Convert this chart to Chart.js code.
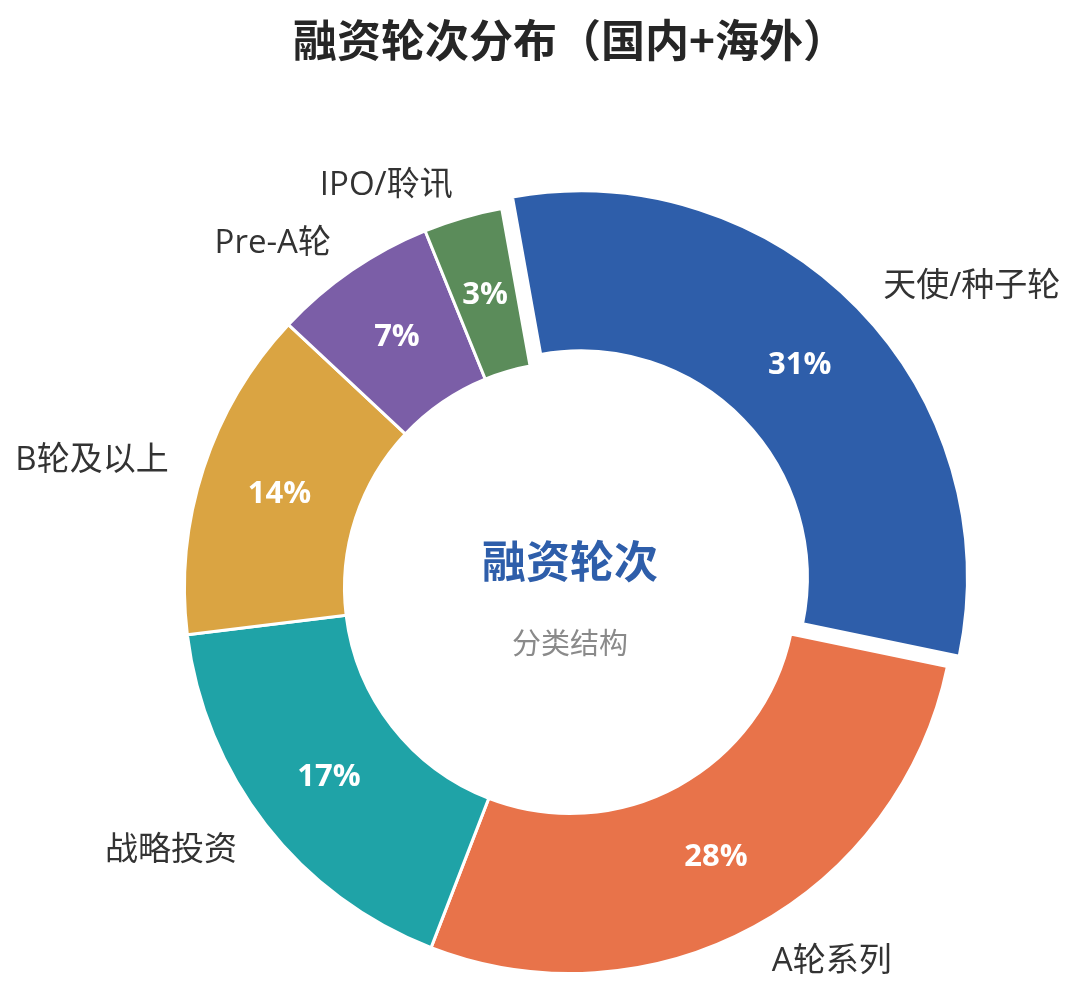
<!DOCTYPE html>
<html>
<head>
<meta charset="utf-8">
<script src="https://cdn.jsdelivr.net/npm/chart.js@4.4.1/dist/chart.umd.min.js"></script>
<style>
  html, body { margin: 0; padding: 0; background: #ffffff; }
  #wrap { position: relative; width: 1080px; height: 989px; }
</style>
</head>
<body>
<div id="wrap"><canvas id="c"></canvas></div>
<script>
// ---- data ----
const titleText = '融资轮次分布（国内+海外）';
const centerTitle = '融资轮次';
const centerSub = '分类结构';
const categories = ['天使/种子轮', 'A轮系列', '战略投资', 'B轮及以上', 'Pre-A轮', 'IPO/聆讯'];
const shares = [31.1, 27.6, 17.2, 13.9, 6.9, 3.3];
const sliceColors = ['#2E5EAA', '#E8734A', '#1FA3A7', '#DAA442', '#7B5EA7', '#5B8C5A'];

const CJK = '"Noto Sans CJK SC", "Noto Sans", sans-serif';
const LAT = '"Open Sans", "Noto Sans CJK SC", sans-serif';

const labelPlugin = {
  id: 'donutLabels',
  afterDatasetsDraw(chart) {
    const ctx = chart.ctx;
    const meta = chart.getDatasetMeta(0);
    const total = shares.reduce((a, b) => a + b, 0);
    ctx.save();
    meta.data.forEach((arc, i) => {
      const p = arc.getProps(['x', 'y', 'startAngle', 'endAngle', 'innerRadius', 'outerRadius']);
      const mid = (p.startAngle + p.endAngle) / 2;
      const shift = (arc.options.offset || 0) / 4;
      const cx = p.x + Math.cos(mid) * shift;
      const cy = p.y + Math.sin(mid) * shift;
      const rMid = (p.innerRadius + p.outerRadius) / 2;
      // percentage inside
      ctx.fillStyle = '#ffffff';
      ctx.font = 'bold 31px ' + LAT;
      ctx.textAlign = 'center';
      ctx.textBaseline = 'middle';
      ctx.fillText(Math.round(shares[i] / total * 100) + '%', cx + Math.cos(mid) * rMid, cy + Math.sin(mid) * rMid + 1);
      // category outside
      const rOut = p.outerRadius * 1.095;
      const lx = cx + Math.cos(mid) * rOut;
      const ly = cy + Math.sin(mid) * rOut;
      ctx.fillStyle = '#333333';
      ctx.font = '33px ' + LAT;
      ctx.textAlign = Math.cos(mid) >= 0 ? 'left' : 'right';
      ctx.fillText(categories[i], lx, ly + 3);
    });
    // center text
    const a0 = meta.data[0];
    ctx.textAlign = 'center';
    ctx.textBaseline = 'middle';
    ctx.fillStyle = sliceColors[0];
    ctx.font = 'bold 44px ' + CJK;
    ctx.fillText(centerTitle, a0.x, a0.y - 27);
    ctx.fillStyle = '#8a8a8a';
    ctx.font = '29px ' + CJK;
    ctx.fillText(centerSub, a0.x, a0.y + 55);
    ctx.restore();
  }
};

new Chart(document.getElementById('c'), {
  type: 'doughnut',
  data: {
    labels: categories,
    datasets: [{
      data: shares,
      backgroundColor: sliceColors,
      borderColor: '#ffffff',
      borderWidth: 3,
      offset: [60, 0, 0, 0, 0, 0],
      radius: 385.5,
      cutout: '58.5%',
      rotation: -10.2
    }]
  },
  options: {
    responsive: true,
    maintainAspectRatio: false,
    animation: false,
    events: [],
    layout: { padding: { left: 60, right: 0, top: 0, bottom: 0 } },
    plugins: {
      legend: { display: false },
      tooltip: { enabled: false },
      title: {
        display: true,
        text: titleText,
        color: '#262626',
        font: { family: CJK, size: 44, weight: 'bold', lineHeight: 1.2 },
        padding: { top: 13.6, bottom: 120.6 }
      }
    }
  },
  plugins: [labelPlugin]
});
</script>
</body>
</html>
